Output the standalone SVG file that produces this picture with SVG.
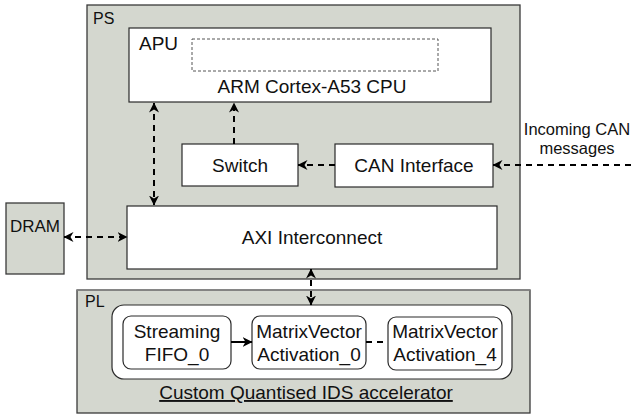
<svg xmlns="http://www.w3.org/2000/svg" width="631" height="416" viewBox="0 0 631 416">
<defs>
<style>
text{font-family:"Liberation Sans",Arial,sans-serif;font-size:19px;fill:#111}
.grey{fill:#d4d7cf;stroke:#3a3a3a;stroke-width:1.3}
.box{fill:#fff;stroke:#2a2a2a;stroke-width:1.2}
.mid{text-anchor:middle}
.small{font-size:16px}
.ext{font-size:16.5px}
.dash{fill:none;stroke:#000;stroke-width:2;stroke-dasharray:6 5}
.solid{fill:none;stroke:#000;stroke-width:2}
</style>
<marker id="ah" viewBox="0 0 10 10" refX="9.5" refY="5" markerWidth="10" markerHeight="10" markerUnits="userSpaceOnUse" orient="auto-start-reverse">
<path d="M0,0 L10,5 L0,10 L3,5 Z" fill="#000"/>
</marker>
</defs>
<g id="ps">
<rect class="grey" x="87" y="5" width="433" height="274"/>
<text class="small" x="93" y="24">PS</text>
</g>
<g id="apu">
<rect class="box" x="129" y="28" width="362" height="74"/>
<rect x="192" y="39" width="246" height="32" fill="none" stroke="#555" stroke-width="1" stroke-dasharray="3 2"/>
<text x="139" y="50">APU</text>
<text class="mid" x="312" y="93">ARM Cortex-A53 CPU</text>
</g>
<g id="switch">
<rect class="box" x="182" y="144" width="116" height="42"/>
<text class="mid" x="240" y="172">Switch</text>
</g>
<g id="can">
<rect class="box" x="335" y="144" width="158" height="43"/>
<text class="mid" x="414" y="172">CAN Interface</text>
</g>
<g id="axi">
<rect class="box" x="127" y="206" width="370" height="63"/>
<text class="mid" x="312" y="244">AXI Interconnect</text>
</g>
<g id="dram">
<rect class="grey" x="6" y="203" width="58" height="71"/>
<text class="mid" x="35" y="232" style="font-size:17px">DRAM</text>
</g>
<g id="incoming">
<text class="mid ext" x="577" y="135">Incoming CAN</text>
<text class="mid ext" x="577" y="154">messages</text>
</g>
<g id="pl">
<rect class="grey" x="77" y="290" width="453" height="123"/>
<line x1="77" y1="290" x2="530" y2="290" stroke="#8a8a8a" stroke-width="1.3"/>
<text class="small" x="85" y="307">PL</text>
</g>
<g id="accelerator">
<rect class="box" x="112" y="305" width="400" height="74" rx="12"/>
<text class="mid" x="306" y="399" text-decoration="underline">Custom Quantised IDS accelerator</text>
</g>
<g id="fifo">
<rect class="box" x="123" y="316" width="108" height="53" rx="8"/>
<text class="mid" x="177" y="338">Streaming</text>
<text class="mid" x="177" y="361">FIFO_0</text>
</g>
<g id="mva0">
<rect class="box" x="252" y="316" width="114" height="53" rx="8"/>
<text class="mid" x="309" y="338">MatrixVector</text>
<text class="mid" x="309" y="361">Activation_0</text>
</g>
<g id="mva4">
<rect class="box" x="388" y="317" width="114" height="53" rx="8"/>
<text class="mid" x="445" y="338">MatrixVector</text>
<text class="mid" x="445" y="361">Activation_4</text>
</g>
<g id="connectors">
<line class="dash" x1="154" y1="103" x2="154" y2="205" marker-start="url(#ah)" marker-end="url(#ah)"/>
<line class="dash" x1="234" y1="144" x2="234" y2="103" marker-end="url(#ah)"/>
<line class="dash" x1="335" y1="165" x2="298" y2="165" marker-end="url(#ah)"/>
<line class="dash" x1="631" y1="165" x2="493" y2="165" marker-end="url(#ah)"/>
<line class="dash" x1="64" y1="237" x2="127" y2="237" marker-start="url(#ah)" marker-end="url(#ah)"/>
<line class="dash" x1="311" y1="269" x2="311" y2="305" marker-start="url(#ah)" marker-end="url(#ah)"/>
<line class="solid" x1="231" y1="342" x2="252" y2="342" marker-end="url(#ah)"/>
<line class="dash" x1="366" y1="342" x2="388" y2="342"/>
</g>
</svg>
